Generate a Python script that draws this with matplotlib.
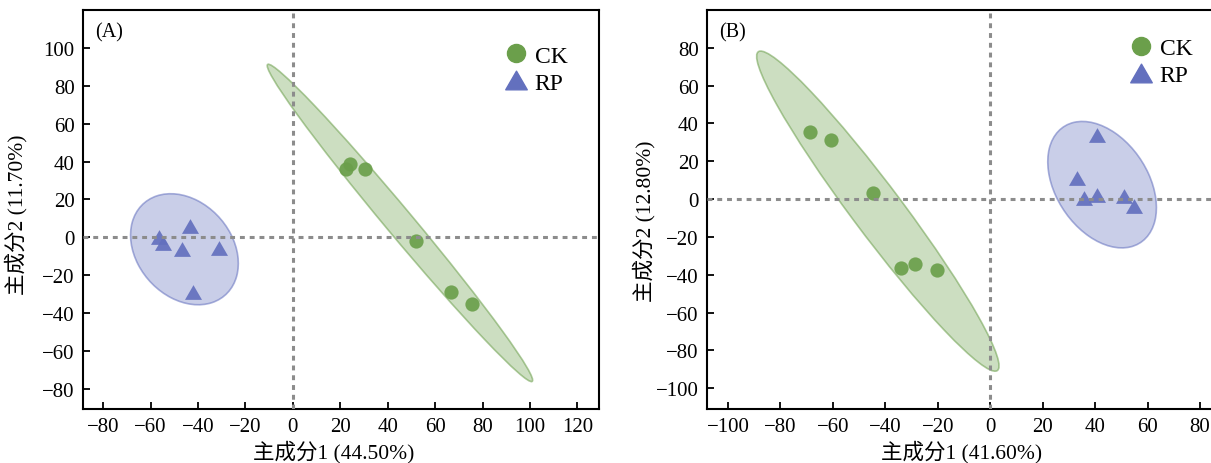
import numpy as np
import matplotlib
matplotlib.use("Agg")
import matplotlib.pyplot as plt
from matplotlib.patches import Ellipse
from matplotlib.lines import Line2D
from matplotlib.path import Path

plt.rcParams['font.family'] = ['Liberation Serif', 'Noto Sans CJK SC', 'DejaVu Sans']
plt.rcParams['axes.unicode_minus'] = True

# PCA scores, panel A
a_ck_x = [22.4, 24.0, 30.5, 51.9, 66.5, 75.7]
a_ck_y = [36.3, 38.9, 36.3, -2.1, -28.7, -35.0]
a_rp_x = [-56.4, -54.7, -43.4, -46.7, -31.0, -42.1]
a_rp_y = [0.1, -3.0, 5.9, -6.1, -5.6, -29.0]

# PCA scores, panel B
b_ck_x = [-68.6, -60.8, -44.9, -34.1, -28.6, -20.2]
b_ck_y = [35.7, 31.5, 3.3, -36.6, -34.5, -37.6]
b_rp_x = [40.5, 33.2, 35.8, 40.7, 50.9, 54.7]
b_rp_y = [33.8, 10.9, 0.5, 2.3, 1.8, -3.5]

groups = ['CK', 'RP']
panel_tags = ['(A)', '(B)']
x_labels = ['主成分1 (44.50%)', '主成分1 (41.60%)']
y_labels = ['主成分2 (11.70%)', '主成分2 (12.80%)']
a_xticks = [-80, -60, -40, -20, 0, 20, 40, 60, 80, 100, 120]
a_yticks = [-80, -60, -40, -20, 0, 20, 40, 60, 80, 100]
b_xticks = [-100, -80, -60, -40, -20, 0, 20, 40, 60, 80]
b_yticks = [-100, -80, -60, -40, -20, 0, 20, 40, 60, 80]

green = '#6b9f4b'
blue = '#6370be'

# equilateral triangle marker centred on its bounding box
tri = Path([(0, 0.866), (-1, -0.866), (1, -0.866), (0, 0.866)],
           [Path.MOVETO, Path.LINETO, Path.LINETO, Path.CLOSEPOLY])


def confidence_ellipse(ax, x, y, color, level=0.95):
    x = np.asarray(x); y = np.asarray(y)
    cov = np.cov(x, y)
    vals, vecs = np.linalg.eigh(cov)
    order = vals.argsort()[::-1]
    vals, vecs = vals[order], vecs[:, order]
    angle = np.degrees(np.arctan2(vecs[1, 0], vecs[0, 0]))
    k = np.sqrt(-2.0 * np.log(1.0 - level))
    w, h = 2 * k * np.sqrt(vals)
    fill = Ellipse((x.mean(), y.mean()), w, h, angle=angle,
                   facecolor=color, alpha=0.34, edgecolor='none', zorder=1)
    edge = Ellipse((x.mean(), y.mean()), w, h, angle=angle,
                   facecolor='none', edgecolor=color, alpha=0.55, lw=1.2, zorder=1)
    ax.add_patch(fill)
    ax.add_patch(edge)


def draw_panel(ax, ckx, cky, rpx, rpy, xticks, yticks, xlim, ylim,
               tag, xlabel, ylabel, legend_anchor, xlabel_pos, ylabel_pos):
    confidence_ellipse(ax, ckx, cky, green)
    confidence_ellipse(ax, rpx, rpy, blue)
    ax.scatter(ckx, cky, s=105, marker='o', color=green, alpha=0.92,
               linewidths=0, zorder=2)
    ax.scatter(rpx, rpy, s=150, marker=tri, color=blue, alpha=0.92,
               linewidths=0, zorder=2)
    ax.axhline(0, color='#8c8c8c', lw=2.2, dashes=(1.6, 1.6), zorder=3)
    ax.axvline(0, color='#8c8c8c', lw=2.2, dashes=(1.6, 1.6), zorder=3)
    ax.set_xlim(*xlim)
    ax.set_ylim(*ylim)
    ax.set_xticks(xticks)
    ax.set_yticks(yticks)
    ax.tick_params(direction='in', length=5, width=1.3, labelsize=15, pad=6)
    for sp in ax.spines.values():
        sp.set_linewidth(1.5)
    ax.set_xlabel(xlabel, fontsize=15.5)
    ax.set_ylabel(ylabel, fontsize=15.5)
    ax.xaxis.set_label_coords(*xlabel_pos)
    ax.yaxis.set_label_coords(*ylabel_pos)
    ax.text(0.024, 0.944, tag, transform=ax.transAxes, fontsize=14.5,
            ha='left', va='center')
    handles = [
        Line2D([], [], ls='none', marker='o', ms=13, color=green, label=groups[0]),
        Line2D([], [], ls='none', marker=tri, ms=15.5, color=blue, label=groups[1]),
    ]
    ax.legend(handles=handles, loc='upper left', bbox_to_anchor=legend_anchor,
              frameon=False, fontsize=17, handlelength=1.0,
              handletextpad=0.3, labelspacing=0.23, borderpad=0, borderaxespad=0)


fig = plt.figure(figsize=(12.11, 4.64), dpi=100)
ax_a = fig.add_axes([83 / 1211, 1 - 410 / 464, 515.7 / 1211, 399 / 464])
ax_b = fig.add_axes([707 / 1211, 1 - 410 / 464, 515.4 / 1211, 399 / 464])

draw_panel(ax_a, a_ck_x, a_ck_y, a_rp_x, a_rp_y, a_xticks, a_yticks,
           (-88.5, 129), (-90.6, 120), panel_tags[0], x_labels[0], y_labels[0],
           (0.816, 0.912), (0.487, -0.078), (-0.107, 0.489))
draw_panel(ax_b, b_ck_x, b_ck_y, b_rp_x, b_rp_y, b_xticks, b_yticks,
           (-108, 88.5), (-111, 100), panel_tags[1], x_labels[1], y_labels[1],
           (0.819, 0.931), (0.493, -0.078), (-0.099, 0.474))

fig.savefig('out.png', dpi=100)
